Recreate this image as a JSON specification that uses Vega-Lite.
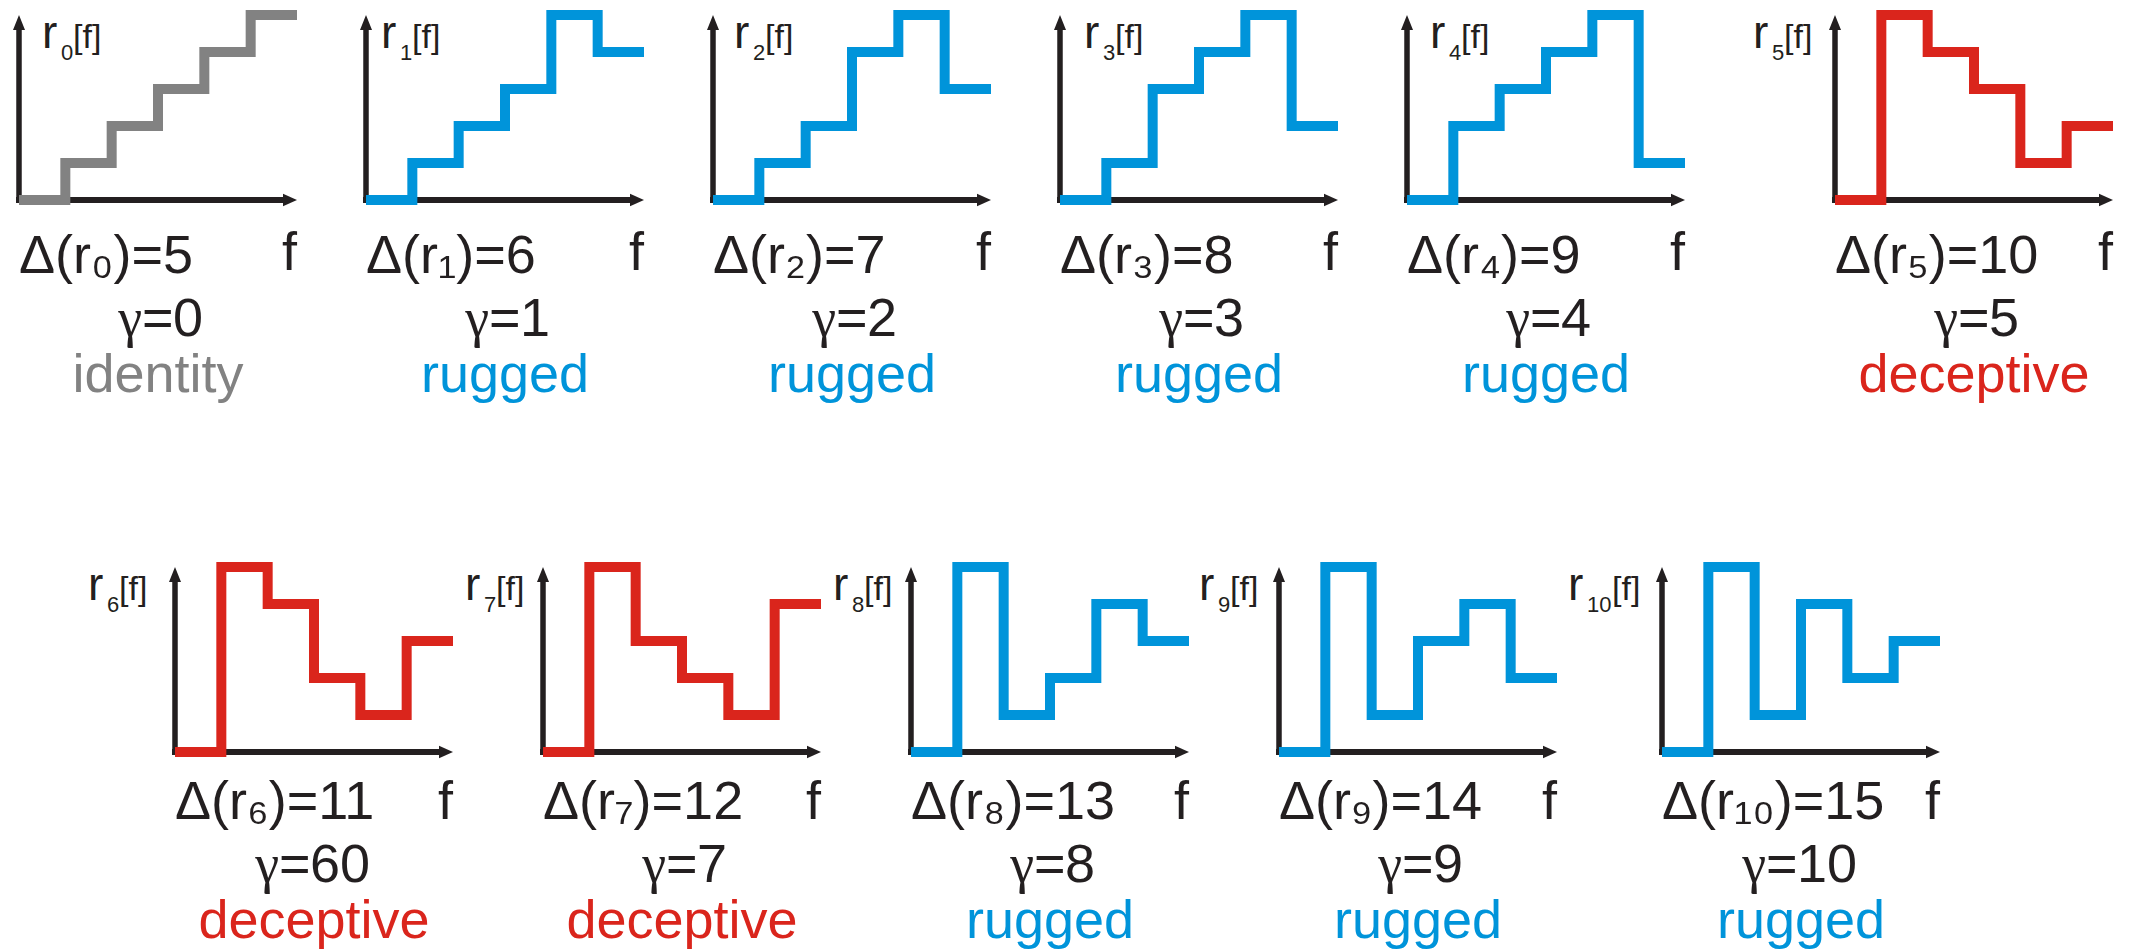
{
  "$schema": "https://vega.github.io/schema/vega-lite/v6.json",
  "padding": {"left": -1, "top": -5, "right": 0, "bottom": 0},
  "config": {
    "view": {"stroke": null},
    "axis": {"disable": true},
    "text": {"baseline": "alphabetic", "font": "Liberation Sans", "color": "#231f20"},
    "rule": {"color": "#231f20", "strokeCap": "butt"},
    "point": {"filled": true, "opacity": 1, "strokeWidth": 0, "color": "#231f20"},
    "line": {"interpolate": "step-after", "strokeWidth": 10, "strokeJoin": "miter", "strokeCap": "butt"}
  },
  "data": {
    "values": [
      {"panel": 0, "kind": "identity", "sub": "0", "delta": "Δ(r₀)=5", "gamma": 0},
      {"panel": 1, "kind": "rugged", "sub": "1", "delta": "Δ(r₁)=6", "gamma": 1},
      {"panel": 2, "kind": "rugged", "sub": "2", "delta": "Δ(r₂)=7", "gamma": 2},
      {"panel": 3, "kind": "rugged", "sub": "3", "delta": "Δ(r₃)=8", "gamma": 3},
      {"panel": 4, "kind": "rugged", "sub": "4", "delta": "Δ(r₄)=9", "gamma": 4},
      {"panel": 5, "kind": "deceptive", "sub": "5", "delta": "Δ(r₅)=10", "gamma": 5},
      {"panel": 6, "kind": "deceptive", "sub": "6", "delta": "Δ(r₆)=11", "gamma": 60},
      {"panel": 7, "kind": "deceptive", "sub": "7", "delta": "Δ(r₇)=12", "gamma": 7},
      {"panel": 8, "kind": "rugged", "sub": "8", "delta": "Δ(r₈)=13", "gamma": 8},
      {"panel": 9, "kind": "rugged", "sub": "9", "delta": "Δ(r₉)=14", "gamma": 9},
      {"panel": 10, "kind": "rugged", "sub": "10", "delta": "Δ(r₁₀)=15", "gamma": 10},

      {"panel": 0, "kind": "identity", "f": 0, "r": 0}, {"panel": 0, "kind": "identity", "f": 1, "r": 1},
      {"panel": 0, "kind": "identity", "f": 2, "r": 2}, {"panel": 0, "kind": "identity", "f": 3, "r": 3},
      {"panel": 0, "kind": "identity", "f": 4, "r": 4}, {"panel": 0, "kind": "identity", "f": 5, "r": 5},
      {"panel": 0, "kind": "identity", "f": 6, "r": 5},
      {"panel": 1, "kind": "rugged", "f": 0, "r": 0}, {"panel": 1, "kind": "rugged", "f": 1, "r": 1},
      {"panel": 1, "kind": "rugged", "f": 2, "r": 2}, {"panel": 1, "kind": "rugged", "f": 3, "r": 3},
      {"panel": 1, "kind": "rugged", "f": 4, "r": 5}, {"panel": 1, "kind": "rugged", "f": 5, "r": 4},
      {"panel": 1, "kind": "rugged", "f": 6, "r": 4},
      {"panel": 2, "kind": "rugged", "f": 0, "r": 0}, {"panel": 2, "kind": "rugged", "f": 1, "r": 1},
      {"panel": 2, "kind": "rugged", "f": 2, "r": 2}, {"panel": 2, "kind": "rugged", "f": 3, "r": 4},
      {"panel": 2, "kind": "rugged", "f": 4, "r": 5}, {"panel": 2, "kind": "rugged", "f": 5, "r": 3},
      {"panel": 2, "kind": "rugged", "f": 6, "r": 3},
      {"panel": 3, "kind": "rugged", "f": 0, "r": 0}, {"panel": 3, "kind": "rugged", "f": 1, "r": 1},
      {"panel": 3, "kind": "rugged", "f": 2, "r": 3}, {"panel": 3, "kind": "rugged", "f": 3, "r": 4},
      {"panel": 3, "kind": "rugged", "f": 4, "r": 5}, {"panel": 3, "kind": "rugged", "f": 5, "r": 2},
      {"panel": 3, "kind": "rugged", "f": 6, "r": 2},
      {"panel": 4, "kind": "rugged", "f": 0, "r": 0}, {"panel": 4, "kind": "rugged", "f": 1, "r": 2},
      {"panel": 4, "kind": "rugged", "f": 2, "r": 3}, {"panel": 4, "kind": "rugged", "f": 3, "r": 4},
      {"panel": 4, "kind": "rugged", "f": 4, "r": 5}, {"panel": 4, "kind": "rugged", "f": 5, "r": 1},
      {"panel": 4, "kind": "rugged", "f": 6, "r": 1},
      {"panel": 5, "kind": "deceptive", "f": 0, "r": 0}, {"panel": 5, "kind": "deceptive", "f": 1, "r": 5},
      {"panel": 5, "kind": "deceptive", "f": 2, "r": 4}, {"panel": 5, "kind": "deceptive", "f": 3, "r": 3},
      {"panel": 5, "kind": "deceptive", "f": 4, "r": 1}, {"panel": 5, "kind": "deceptive", "f": 5, "r": 2},
      {"panel": 5, "kind": "deceptive", "f": 6, "r": 2},
      {"panel": 6, "kind": "deceptive", "f": 0, "r": 0}, {"panel": 6, "kind": "deceptive", "f": 1, "r": 5},
      {"panel": 6, "kind": "deceptive", "f": 2, "r": 4}, {"panel": 6, "kind": "deceptive", "f": 3, "r": 2},
      {"panel": 6, "kind": "deceptive", "f": 4, "r": 1}, {"panel": 6, "kind": "deceptive", "f": 5, "r": 3},
      {"panel": 6, "kind": "deceptive", "f": 6, "r": 3},
      {"panel": 7, "kind": "deceptive", "f": 0, "r": 0}, {"panel": 7, "kind": "deceptive", "f": 1, "r": 5},
      {"panel": 7, "kind": "deceptive", "f": 2, "r": 3}, {"panel": 7, "kind": "deceptive", "f": 3, "r": 2},
      {"panel": 7, "kind": "deceptive", "f": 4, "r": 1}, {"panel": 7, "kind": "deceptive", "f": 5, "r": 4},
      {"panel": 7, "kind": "deceptive", "f": 6, "r": 4},
      {"panel": 8, "kind": "rugged", "f": 0, "r": 0}, {"panel": 8, "kind": "rugged", "f": 1, "r": 5},
      {"panel": 8, "kind": "rugged", "f": 2, "r": 1}, {"panel": 8, "kind": "rugged", "f": 3, "r": 2},
      {"panel": 8, "kind": "rugged", "f": 4, "r": 4}, {"panel": 8, "kind": "rugged", "f": 5, "r": 3},
      {"panel": 8, "kind": "rugged", "f": 6, "r": 3},
      {"panel": 9, "kind": "rugged", "f": 0, "r": 0}, {"panel": 9, "kind": "rugged", "f": 1, "r": 5},
      {"panel": 9, "kind": "rugged", "f": 2, "r": 1}, {"panel": 9, "kind": "rugged", "f": 3, "r": 3},
      {"panel": 9, "kind": "rugged", "f": 4, "r": 4}, {"panel": 9, "kind": "rugged", "f": 5, "r": 2},
      {"panel": 9, "kind": "rugged", "f": 6, "r": 2},
      {"panel": 10, "kind": "rugged", "f": 0, "r": 0}, {"panel": 10, "kind": "rugged", "f": 1, "r": 5},
      {"panel": 10, "kind": "rugged", "f": 2, "r": 1}, {"panel": 10, "kind": "rugged", "f": 3, "r": 4},
      {"panel": 10, "kind": "rugged", "f": 4, "r": 2}, {"panel": 10, "kind": "rugged", "f": 5, "r": 3},
      {"panel": 10, "kind": "rugged", "f": 6, "r": 3}
    ]
  },
  "spacing": 552,
  "bounds": "flush",
  "vconcat": [
    {
      "spacing": 1816,
      "bounds": "flush",
      "hconcat": [
        {
          "spacing": 69,
          "bounds": "flush",
          "hconcat": [
            {
              "width": 278, "height": 185,
              "transform": [{"filter": "datum.panel == 0"}],
              "layer": [
                {
                  "transform": [{"filter": "!isValid(datum.f)"}],
                  "encoding": {
                    "x": {"datum": 0, "type": "quantitative", "scale": {"domain": [0, 6], "nice": false, "zero": false}, "axis": null},
                    "y": {"datum": 0, "type": "quantitative", "scale": {"domain": [0, 5], "nice": false, "zero": false}, "axis": null}
                  },
                  "layer": [
                    {"mark": {"type": "rule", "strokeWidth": 6, "xOffset": -3, "x2Offset": -12}, "encoding": {"x2": {"datum": 6}}},
                    {"mark": {"type": "rule", "strokeWidth": 5.5, "yOffset": 3, "y2Offset": 12}, "encoding": {"y2": {"datum": 5}}},
                    {"mark": {"type": "point", "shape": "M0,0L0.4,1L-0.4,1Z", "size": 900}, "encoding": {"y": {"datum": 5, "type": "quantitative"}}},
                    {"mark": {"type": "point", "shape": "M0,0L-1,-0.45L-1,0.45Z", "size": 784}, "encoding": {"x": {"datum": 6, "type": "quantitative"}}},
                    {"mark": {"type": "text", "align": "left", "dy": 73, "fontSize": 54}, "encoding": {"text": {"field": "delta"}}},
                    {"mark": {"type": "text", "align": "right", "dy": 70, "fontSize": 54, "text": "f"}, "encoding": {"x": {"datum": 6, "type": "quantitative"}}},
                    {"mark": {"type": "text", "align": "right", "dx": -16, "dy": 136, "fontSize": 54, "font": "Liberation Serif", "text": "γ"}, "encoding": {"x": {"datum": 3, "type": "quantitative"}}},
                    {"mark": {"type": "text", "align": "left", "dx": -16, "dy": 136, "fontSize": 54, "text": "="}, "encoding": {"x": {"datum": 3, "type": "quantitative"}}},
                    {"mark": {"type": "text", "align": "left", "dx": 15, "dy": 136, "fontSize": 54}, "encoding": {"x": {"datum": 3, "type": "quantitative"}, "text": {"field": "gamma", "type": "quantitative", "format": "d"}}},
                    {"mark": {"type": "text", "align": "center", "dy": 192, "fontSize": 54}, "encoding": {"x": {"datum": 3, "type": "quantitative"}, "text": {"field": "kind"}, "color": {"field": "kind", "type": "nominal", "scale": {"domain": ["identity", "rugged", "deceptive"], "range": ["#828282", "#0094da", "#da251c"]}, "legend": null}}},
                    {"mark": {"type": "text", "align": "left", "dx": 23, "dy": 33, "fontSize": 46, "text": "r"}, "encoding": {"y": {"datum": 5, "type": "quantitative"}}},
                    {"mark": {"type": "text", "align": "left", "dx": 42, "dy": 45, "fontSize": 22}, "encoding": {"y": {"datum": 5, "type": "quantitative"}, "text": {"field": "sub"}}},
                    {"mark": {"type": "text", "align": "left", "dx": 54, "dy": 33, "fontSize": 34, "text": "[f]"}, "encoding": {"y": {"datum": 5, "type": "quantitative"}}}
                  ]
                },
                {
                  "transform": [{"filter": "isValid(datum.f)"}],
                  "mark": "line",
                  "encoding": {"x": {"field": "f", "type": "quantitative"}, "y": {"field": "r", "type": "quantitative"}, "color": {"field": "kind", "type": "nominal", "scale": {"domain": ["identity", "rugged", "deceptive"], "range": ["#828282", "#0094da", "#da251c"]}, "legend": null}}
                }
              ]
            },
            {
              "width": 278, "height": 185,
              "transform": [{"filter": "datum.panel == 1"}],
              "layer": [
                {
                  "transform": [{"filter": "!isValid(datum.f)"}],
                  "encoding": {
                    "x": {"datum": 0, "type": "quantitative", "scale": {"domain": [0, 6], "nice": false, "zero": false}, "axis": null},
                    "y": {"datum": 0, "type": "quantitative", "scale": {"domain": [0, 5], "nice": false, "zero": false}, "axis": null}
                  },
                  "layer": [
                    {"mark": {"type": "rule", "strokeWidth": 6, "xOffset": -3, "x2Offset": -12}, "encoding": {"x2": {"datum": 6}}},
                    {"mark": {"type": "rule", "strokeWidth": 5.5, "yOffset": 3, "y2Offset": 12}, "encoding": {"y2": {"datum": 5}}},
                    {"mark": {"type": "point", "shape": "M0,0L0.4,1L-0.4,1Z", "size": 900}, "encoding": {"y": {"datum": 5, "type": "quantitative"}}},
                    {"mark": {"type": "point", "shape": "M0,0L-1,-0.45L-1,0.45Z", "size": 784}, "encoding": {"x": {"datum": 6, "type": "quantitative"}}},
                    {"mark": {"type": "text", "align": "left", "dy": 73, "fontSize": 54}, "encoding": {"text": {"field": "delta"}}},
                    {"mark": {"type": "text", "align": "right", "dy": 70, "fontSize": 54, "text": "f"}, "encoding": {"x": {"datum": 6, "type": "quantitative"}}},
                    {"mark": {"type": "text", "align": "right", "dx": -16, "dy": 136, "fontSize": 54, "font": "Liberation Serif", "text": "γ"}, "encoding": {"x": {"datum": 3, "type": "quantitative"}}},
                    {"mark": {"type": "text", "align": "left", "dx": -16, "dy": 136, "fontSize": 54, "text": "="}, "encoding": {"x": {"datum": 3, "type": "quantitative"}}},
                    {"mark": {"type": "text", "align": "left", "dx": 15, "dy": 136, "fontSize": 54}, "encoding": {"x": {"datum": 3, "type": "quantitative"}, "text": {"field": "gamma", "type": "quantitative", "format": "d"}}},
                    {"mark": {"type": "text", "align": "center", "dy": 192, "fontSize": 54}, "encoding": {"x": {"datum": 3, "type": "quantitative"}, "text": {"field": "kind"}, "color": {"field": "kind", "type": "nominal", "scale": {"domain": ["identity", "rugged", "deceptive"], "range": ["#828282", "#0094da", "#da251c"]}, "legend": null}}},
                    {"mark": {"type": "text", "align": "left", "dx": 15, "dy": 33, "fontSize": 46, "text": "r"}, "encoding": {"y": {"datum": 5, "type": "quantitative"}}},
                    {"mark": {"type": "text", "align": "left", "dx": 34, "dy": 45, "fontSize": 22}, "encoding": {"y": {"datum": 5, "type": "quantitative"}, "text": {"field": "sub"}}},
                    {"mark": {"type": "text", "align": "left", "dx": 46, "dy": 33, "fontSize": 34, "text": "[f]"}, "encoding": {"y": {"datum": 5, "type": "quantitative"}}}
                  ]
                },
                {
                  "transform": [{"filter": "isValid(datum.f)"}],
                  "mark": "line",
                  "encoding": {"x": {"field": "f", "type": "quantitative"}, "y": {"field": "r", "type": "quantitative"}, "color": {"field": "kind", "type": "nominal", "scale": {"domain": ["identity", "rugged", "deceptive"], "range": ["#828282", "#0094da", "#da251c"]}, "legend": null}}
                }
              ]
            },
            {
              "width": 278, "height": 185,
              "transform": [{"filter": "datum.panel == 2"}],
              "layer": [
                {
                  "transform": [{"filter": "!isValid(datum.f)"}],
                  "encoding": {
                    "x": {"datum": 0, "type": "quantitative", "scale": {"domain": [0, 6], "nice": false, "zero": false}, "axis": null},
                    "y": {"datum": 0, "type": "quantitative", "scale": {"domain": [0, 5], "nice": false, "zero": false}, "axis": null}
                  },
                  "layer": [
                    {"mark": {"type": "rule", "strokeWidth": 6, "xOffset": -3, "x2Offset": -12}, "encoding": {"x2": {"datum": 6}}},
                    {"mark": {"type": "rule", "strokeWidth": 5.5, "yOffset": 3, "y2Offset": 12}, "encoding": {"y2": {"datum": 5}}},
                    {"mark": {"type": "point", "shape": "M0,0L0.4,1L-0.4,1Z", "size": 900}, "encoding": {"y": {"datum": 5, "type": "quantitative"}}},
                    {"mark": {"type": "point", "shape": "M0,0L-1,-0.45L-1,0.45Z", "size": 784}, "encoding": {"x": {"datum": 6, "type": "quantitative"}}},
                    {"mark": {"type": "text", "align": "left", "dy": 73, "fontSize": 54}, "encoding": {"text": {"field": "delta"}}},
                    {"mark": {"type": "text", "align": "right", "dy": 70, "fontSize": 54, "text": "f"}, "encoding": {"x": {"datum": 6, "type": "quantitative"}}},
                    {"mark": {"type": "text", "align": "right", "dx": -16, "dy": 136, "fontSize": 54, "font": "Liberation Serif", "text": "γ"}, "encoding": {"x": {"datum": 3, "type": "quantitative"}}},
                    {"mark": {"type": "text", "align": "left", "dx": -16, "dy": 136, "fontSize": 54, "text": "="}, "encoding": {"x": {"datum": 3, "type": "quantitative"}}},
                    {"mark": {"type": "text", "align": "left", "dx": 15, "dy": 136, "fontSize": 54}, "encoding": {"x": {"datum": 3, "type": "quantitative"}, "text": {"field": "gamma", "type": "quantitative", "format": "d"}}},
                    {"mark": {"type": "text", "align": "center", "dy": 192, "fontSize": 54}, "encoding": {"x": {"datum": 3, "type": "quantitative"}, "text": {"field": "kind"}, "color": {"field": "kind", "type": "nominal", "scale": {"domain": ["identity", "rugged", "deceptive"], "range": ["#828282", "#0094da", "#da251c"]}, "legend": null}}},
                    {"mark": {"type": "text", "align": "left", "dx": 21, "dy": 33, "fontSize": 46, "text": "r"}, "encoding": {"y": {"datum": 5, "type": "quantitative"}}},
                    {"mark": {"type": "text", "align": "left", "dx": 40, "dy": 45, "fontSize": 22}, "encoding": {"y": {"datum": 5, "type": "quantitative"}, "text": {"field": "sub"}}},
                    {"mark": {"type": "text", "align": "left", "dx": 52, "dy": 33, "fontSize": 34, "text": "[f]"}, "encoding": {"y": {"datum": 5, "type": "quantitative"}}}
                  ]
                },
                {
                  "transform": [{"filter": "isValid(datum.f)"}],
                  "mark": "line",
                  "encoding": {"x": {"field": "f", "type": "quantitative"}, "y": {"field": "r", "type": "quantitative"}, "color": {"field": "kind", "type": "nominal", "scale": {"domain": ["identity", "rugged", "deceptive"], "range": ["#828282", "#0094da", "#da251c"]}, "legend": null}}
                }
              ]
            },
            {
              "width": 278, "height": 185,
              "transform": [{"filter": "datum.panel == 3"}],
              "layer": [
                {
                  "transform": [{"filter": "!isValid(datum.f)"}],
                  "encoding": {
                    "x": {"datum": 0, "type": "quantitative", "scale": {"domain": [0, 6], "nice": false, "zero": false}, "axis": null},
                    "y": {"datum": 0, "type": "quantitative", "scale": {"domain": [0, 5], "nice": false, "zero": false}, "axis": null}
                  },
                  "layer": [
                    {"mark": {"type": "rule", "strokeWidth": 6, "xOffset": -3, "x2Offset": -12}, "encoding": {"x2": {"datum": 6}}},
                    {"mark": {"type": "rule", "strokeWidth": 5.5, "yOffset": 3, "y2Offset": 12}, "encoding": {"y2": {"datum": 5}}},
                    {"mark": {"type": "point", "shape": "M0,0L0.4,1L-0.4,1Z", "size": 900}, "encoding": {"y": {"datum": 5, "type": "quantitative"}}},
                    {"mark": {"type": "point", "shape": "M0,0L-1,-0.45L-1,0.45Z", "size": 784}, "encoding": {"x": {"datum": 6, "type": "quantitative"}}},
                    {"mark": {"type": "text", "align": "left", "dy": 73, "fontSize": 54}, "encoding": {"text": {"field": "delta"}}},
                    {"mark": {"type": "text", "align": "right", "dy": 70, "fontSize": 54, "text": "f"}, "encoding": {"x": {"datum": 6, "type": "quantitative"}}},
                    {"mark": {"type": "text", "align": "right", "dx": -16, "dy": 136, "fontSize": 54, "font": "Liberation Serif", "text": "γ"}, "encoding": {"x": {"datum": 3, "type": "quantitative"}}},
                    {"mark": {"type": "text", "align": "left", "dx": -16, "dy": 136, "fontSize": 54, "text": "="}, "encoding": {"x": {"datum": 3, "type": "quantitative"}}},
                    {"mark": {"type": "text", "align": "left", "dx": 15, "dy": 136, "fontSize": 54}, "encoding": {"x": {"datum": 3, "type": "quantitative"}, "text": {"field": "gamma", "type": "quantitative", "format": "d"}}},
                    {"mark": {"type": "text", "align": "center", "dy": 192, "fontSize": 54}, "encoding": {"x": {"datum": 3, "type": "quantitative"}, "text": {"field": "kind"}, "color": {"field": "kind", "type": "nominal", "scale": {"domain": ["identity", "rugged", "deceptive"], "range": ["#828282", "#0094da", "#da251c"]}, "legend": null}}},
                    {"mark": {"type": "text", "align": "left", "dx": 24, "dy": 33, "fontSize": 46, "text": "r"}, "encoding": {"y": {"datum": 5, "type": "quantitative"}}},
                    {"mark": {"type": "text", "align": "left", "dx": 43, "dy": 45, "fontSize": 22}, "encoding": {"y": {"datum": 5, "type": "quantitative"}, "text": {"field": "sub"}}},
                    {"mark": {"type": "text", "align": "left", "dx": 55, "dy": 33, "fontSize": 34, "text": "[f]"}, "encoding": {"y": {"datum": 5, "type": "quantitative"}}}
                  ]
                },
                {
                  "transform": [{"filter": "isValid(datum.f)"}],
                  "mark": "line",
                  "encoding": {"x": {"field": "f", "type": "quantitative"}, "y": {"field": "r", "type": "quantitative"}, "color": {"field": "kind", "type": "nominal", "scale": {"domain": ["identity", "rugged", "deceptive"], "range": ["#828282", "#0094da", "#da251c"]}, "legend": null}}
                }
              ]
            },
            {
              "width": 278, "height": 185,
              "transform": [{"filter": "datum.panel == 4"}],
              "layer": [
                {
                  "transform": [{"filter": "!isValid(datum.f)"}],
                  "encoding": {
                    "x": {"datum": 0, "type": "quantitative", "scale": {"domain": [0, 6], "nice": false, "zero": false}, "axis": null},
                    "y": {"datum": 0, "type": "quantitative", "scale": {"domain": [0, 5], "nice": false, "zero": false}, "axis": null}
                  },
                  "layer": [
                    {"mark": {"type": "rule", "strokeWidth": 6, "xOffset": -3, "x2Offset": -12}, "encoding": {"x2": {"datum": 6}}},
                    {"mark": {"type": "rule", "strokeWidth": 5.5, "yOffset": 3, "y2Offset": 12}, "encoding": {"y2": {"datum": 5}}},
                    {"mark": {"type": "point", "shape": "M0,0L0.4,1L-0.4,1Z", "size": 900}, "encoding": {"y": {"datum": 5, "type": "quantitative"}}},
                    {"mark": {"type": "point", "shape": "M0,0L-1,-0.45L-1,0.45Z", "size": 784}, "encoding": {"x": {"datum": 6, "type": "quantitative"}}},
                    {"mark": {"type": "text", "align": "left", "dy": 73, "fontSize": 54}, "encoding": {"text": {"field": "delta"}}},
                    {"mark": {"type": "text", "align": "right", "dy": 70, "fontSize": 54, "text": "f"}, "encoding": {"x": {"datum": 6, "type": "quantitative"}}},
                    {"mark": {"type": "text", "align": "right", "dx": -16, "dy": 136, "fontSize": 54, "font": "Liberation Serif", "text": "γ"}, "encoding": {"x": {"datum": 3, "type": "quantitative"}}},
                    {"mark": {"type": "text", "align": "left", "dx": -16, "dy": 136, "fontSize": 54, "text": "="}, "encoding": {"x": {"datum": 3, "type": "quantitative"}}},
                    {"mark": {"type": "text", "align": "left", "dx": 15, "dy": 136, "fontSize": 54}, "encoding": {"x": {"datum": 3, "type": "quantitative"}, "text": {"field": "gamma", "type": "quantitative", "format": "d"}}},
                    {"mark": {"type": "text", "align": "center", "dy": 192, "fontSize": 54}, "encoding": {"x": {"datum": 3, "type": "quantitative"}, "text": {"field": "kind"}, "color": {"field": "kind", "type": "nominal", "scale": {"domain": ["identity", "rugged", "deceptive"], "range": ["#828282", "#0094da", "#da251c"]}, "legend": null}}},
                    {"mark": {"type": "text", "align": "left", "dx": 23, "dy": 33, "fontSize": 46, "text": "r"}, "encoding": {"y": {"datum": 5, "type": "quantitative"}}},
                    {"mark": {"type": "text", "align": "left", "dx": 42, "dy": 45, "fontSize": 22}, "encoding": {"y": {"datum": 5, "type": "quantitative"}, "text": {"field": "sub"}}},
                    {"mark": {"type": "text", "align": "left", "dx": 54, "dy": 33, "fontSize": 34, "text": "[f]"}, "encoding": {"y": {"datum": 5, "type": "quantitative"}}}
                  ]
                },
                {
                  "transform": [{"filter": "isValid(datum.f)"}],
                  "mark": "line",
                  "encoding": {"x": {"field": "f", "type": "quantitative"}, "y": {"field": "r", "type": "quantitative"}, "color": {"field": "kind", "type": "nominal", "scale": {"domain": ["identity", "rugged", "deceptive"], "range": ["#828282", "#0094da", "#da251c"]}, "legend": null}}
                }
              ]
            }
          ]
        },
        {
          "width": 278, "height": 185,
          "transform": [{"filter": "datum.panel == 5"}],
          "layer": [
            {
              "transform": [{"filter": "!isValid(datum.f)"}],
              "encoding": {
                "x": {"datum": 0, "type": "quantitative", "scale": {"domain": [0, 6], "nice": false, "zero": false}, "axis": null},
                "y": {"datum": 0, "type": "quantitative", "scale": {"domain": [0, 5], "nice": false, "zero": false}, "axis": null}
              },
              "layer": [
                {"mark": {"type": "rule", "strokeWidth": 6, "xOffset": -3, "x2Offset": -12}, "encoding": {"x2": {"datum": 6}}},
                {"mark": {"type": "rule", "strokeWidth": 5.5, "yOffset": 3, "y2Offset": 12}, "encoding": {"y2": {"datum": 5}}},
                {"mark": {"type": "point", "shape": "M0,0L0.4,1L-0.4,1Z", "size": 900}, "encoding": {"y": {"datum": 5, "type": "quantitative"}}},
                {"mark": {"type": "point", "shape": "M0,0L-1,-0.45L-1,0.45Z", "size": 784}, "encoding": {"x": {"datum": 6, "type": "quantitative"}}},
                {"mark": {"type": "text", "align": "left", "dy": 73, "fontSize": 54}, "encoding": {"text": {"field": "delta"}}},
                {"mark": {"type": "text", "align": "right", "dy": 70, "fontSize": 54, "text": "f"}, "encoding": {"x": {"datum": 6, "type": "quantitative"}}},
                {"mark": {"type": "text", "align": "right", "dx": -16, "dy": 136, "fontSize": 54, "font": "Liberation Serif", "text": "γ"}, "encoding": {"x": {"datum": 3, "type": "quantitative"}}},
                {"mark": {"type": "text", "align": "left", "dx": -16, "dy": 136, "fontSize": 54, "text": "="}, "encoding": {"x": {"datum": 3, "type": "quantitative"}}},
                {"mark": {"type": "text", "align": "left", "dx": 15, "dy": 136, "fontSize": 54}, "encoding": {"x": {"datum": 3, "type": "quantitative"}, "text": {"field": "gamma", "type": "quantitative", "format": "d"}}},
                {"mark": {"type": "text", "align": "center", "dy": 192, "fontSize": 54}, "encoding": {"x": {"datum": 3, "type": "quantitative"}, "text": {"field": "kind"}, "color": {"field": "kind", "type": "nominal", "scale": {"domain": ["identity", "rugged", "deceptive"], "range": ["#828282", "#0094da", "#da251c"]}, "legend": null}}},
                {"mark": {"type": "text", "align": "left", "dx": -82, "dy": 33, "fontSize": 46, "text": "r"}, "encoding": {"y": {"datum": 5, "type": "quantitative"}}},
                {"mark": {"type": "text", "align": "left", "dx": -63, "dy": 45, "fontSize": 22}, "encoding": {"y": {"datum": 5, "type": "quantitative"}, "text": {"field": "sub"}}},
                {"mark": {"type": "text", "align": "left", "dx": -51, "dy": 33, "fontSize": 34, "text": "[f]"}, "encoding": {"y": {"datum": 5, "type": "quantitative"}}}
              ]
            },
            {
              "transform": [{"filter": "isValid(datum.f)"}],
              "mark": "line",
              "encoding": {"x": {"field": "f", "type": "quantitative"}, "y": {"field": "r", "type": "quantitative"}, "color": {"field": "kind", "type": "nominal", "scale": {"domain": ["identity", "rugged", "deceptive"], "range": ["#828282", "#0094da", "#da251c"]}, "legend": null}}
            }
          ]
        }
      ]
    },
    {
      "spacing": 105,
      "bounds": "flush",
      "hconcat": [
        {
          "width": 51, "height": 185,
          "data": {"values": []},
          "mark": {"type": "point", "opacity": 0}
        },
        {
          "spacing": 1487,
          "bounds": "flush",
          "hconcat": [
            {
              "spacing": 90,
              "bounds": "flush",
              "hconcat": [
                {
                  "width": 278, "height": 185,
                  "transform": [{"filter": "datum.panel == 6"}],
                  "layer": [
                    {
                      "transform": [{"filter": "!isValid(datum.f)"}],
                      "encoding": {
                        "x": {"datum": 0, "type": "quantitative", "scale": {"domain": [0, 6], "nice": false, "zero": false}, "axis": null},
                        "y": {"datum": 0, "type": "quantitative", "scale": {"domain": [0, 5], "nice": false, "zero": false}, "axis": null}
                      },
                      "layer": [
                        {"mark": {"type": "rule", "strokeWidth": 6, "xOffset": -3, "x2Offset": -12}, "encoding": {"x2": {"datum": 6}}},
                        {"mark": {"type": "rule", "strokeWidth": 5.5, "yOffset": 3, "y2Offset": 12}, "encoding": {"y2": {"datum": 5}}},
                        {"mark": {"type": "point", "shape": "M0,0L0.4,1L-0.4,1Z", "size": 900}, "encoding": {"y": {"datum": 5, "type": "quantitative"}}},
                        {"mark": {"type": "point", "shape": "M0,0L-1,-0.45L-1,0.45Z", "size": 784}, "encoding": {"x": {"datum": 6, "type": "quantitative"}}},
                        {"mark": {"type": "text", "align": "left", "dy": 67, "fontSize": 54}, "encoding": {"text": {"field": "delta"}}},
                        {"mark": {"type": "text", "align": "right", "dy": 67, "fontSize": 54, "text": "f"}, "encoding": {"x": {"datum": 6, "type": "quantitative"}}},
                        {"mark": {"type": "text", "align": "right", "dx": -35, "dy": 130, "fontSize": 54, "font": "Liberation Serif", "text": "γ"}, "encoding": {"x": {"datum": 3, "type": "quantitative"}}},
                        {"mark": {"type": "text", "align": "left", "dx": -35, "dy": 130, "fontSize": 54, "text": "="}, "encoding": {"x": {"datum": 3, "type": "quantitative"}}},
                        {"mark": {"type": "text", "align": "left", "dx": -4, "dy": 130, "fontSize": 54}, "encoding": {"x": {"datum": 3, "type": "quantitative"}, "text": {"field": "gamma", "type": "quantitative", "format": "d"}}},
                        {"mark": {"type": "text", "align": "center", "dy": 186, "fontSize": 54}, "encoding": {"x": {"datum": 3, "type": "quantitative"}, "text": {"field": "kind"}, "color": {"field": "kind", "type": "nominal", "scale": {"domain": ["identity", "rugged", "deceptive"], "range": ["#828282", "#0094da", "#da251c"]}, "legend": null}}},
                        {"mark": {"type": "text", "align": "left", "dx": -87, "dy": 33, "fontSize": 46, "text": "r"}, "encoding": {"y": {"datum": 5, "type": "quantitative"}}},
                        {"mark": {"type": "text", "align": "left", "dx": -68, "dy": 45, "fontSize": 22}, "encoding": {"y": {"datum": 5, "type": "quantitative"}, "text": {"field": "sub"}}},
                        {"mark": {"type": "text", "align": "left", "dx": -56, "dy": 33, "fontSize": 34, "text": "[f]"}, "encoding": {"y": {"datum": 5, "type": "quantitative"}}}
                      ]
                    },
                    {
                      "transform": [{"filter": "isValid(datum.f)"}],
                      "mark": "line",
                      "encoding": {"x": {"field": "f", "type": "quantitative"}, "y": {"field": "r", "type": "quantitative"}, "color": {"field": "kind", "type": "nominal", "scale": {"domain": ["identity", "rugged", "deceptive"], "range": ["#828282", "#0094da", "#da251c"]}, "legend": null}}
                    }
                  ]
                },
                {
                  "width": 278, "height": 185,
                  "transform": [{"filter": "datum.panel == 7"}],
                  "layer": [
                    {
                      "transform": [{"filter": "!isValid(datum.f)"}],
                      "encoding": {
                        "x": {"datum": 0, "type": "quantitative", "scale": {"domain": [0, 6], "nice": false, "zero": false}, "axis": null},
                        "y": {"datum": 0, "type": "quantitative", "scale": {"domain": [0, 5], "nice": false, "zero": false}, "axis": null}
                      },
                      "layer": [
                        {"mark": {"type": "rule", "strokeWidth": 6, "xOffset": -3, "x2Offset": -12}, "encoding": {"x2": {"datum": 6}}},
                        {"mark": {"type": "rule", "strokeWidth": 5.5, "yOffset": 3, "y2Offset": 12}, "encoding": {"y2": {"datum": 5}}},
                        {"mark": {"type": "point", "shape": "M0,0L0.4,1L-0.4,1Z", "size": 900}, "encoding": {"y": {"datum": 5, "type": "quantitative"}}},
                        {"mark": {"type": "point", "shape": "M0,0L-1,-0.45L-1,0.45Z", "size": 784}, "encoding": {"x": {"datum": 6, "type": "quantitative"}}},
                        {"mark": {"type": "text", "align": "left", "dy": 67, "fontSize": 54}, "encoding": {"text": {"field": "delta"}}},
                        {"mark": {"type": "text", "align": "right", "dy": 67, "fontSize": 54, "text": "f"}, "encoding": {"x": {"datum": 6, "type": "quantitative"}}},
                        {"mark": {"type": "text", "align": "right", "dx": -16, "dy": 130, "fontSize": 54, "font": "Liberation Serif", "text": "γ"}, "encoding": {"x": {"datum": 3, "type": "quantitative"}}},
                        {"mark": {"type": "text", "align": "left", "dx": -16, "dy": 130, "fontSize": 54, "text": "="}, "encoding": {"x": {"datum": 3, "type": "quantitative"}}},
                        {"mark": {"type": "text", "align": "left", "dx": 15, "dy": 130, "fontSize": 54}, "encoding": {"x": {"datum": 3, "type": "quantitative"}, "text": {"field": "gamma", "type": "quantitative", "format": "d"}}},
                        {"mark": {"type": "text", "align": "center", "dy": 186, "fontSize": 54}, "encoding": {"x": {"datum": 3, "type": "quantitative"}, "text": {"field": "kind"}, "color": {"field": "kind", "type": "nominal", "scale": {"domain": ["identity", "rugged", "deceptive"], "range": ["#828282", "#0094da", "#da251c"]}, "legend": null}}},
                        {"mark": {"type": "text", "align": "left", "dx": -78, "dy": 33, "fontSize": 46, "text": "r"}, "encoding": {"y": {"datum": 5, "type": "quantitative"}}},
                        {"mark": {"type": "text", "align": "left", "dx": -59, "dy": 45, "fontSize": 22}, "encoding": {"y": {"datum": 5, "type": "quantitative"}, "text": {"field": "sub"}}},
                        {"mark": {"type": "text", "align": "left", "dx": -47, "dy": 33, "fontSize": 34, "text": "[f]"}, "encoding": {"y": {"datum": 5, "type": "quantitative"}}}
                      ]
                    },
                    {
                      "transform": [{"filter": "isValid(datum.f)"}],
                      "mark": "line",
                      "encoding": {"x": {"field": "f", "type": "quantitative"}, "y": {"field": "r", "type": "quantitative"}, "color": {"field": "kind", "type": "nominal", "scale": {"domain": ["identity", "rugged", "deceptive"], "range": ["#828282", "#0094da", "#da251c"]}, "legend": null}}
                    }
                  ]
                },
                {
                  "width": 278, "height": 185,
                  "transform": [{"filter": "datum.panel == 8"}],
                  "layer": [
                    {
                      "transform": [{"filter": "!isValid(datum.f)"}],
                      "encoding": {
                        "x": {"datum": 0, "type": "quantitative", "scale": {"domain": [0, 6], "nice": false, "zero": false}, "axis": null},
                        "y": {"datum": 0, "type": "quantitative", "scale": {"domain": [0, 5], "nice": false, "zero": false}, "axis": null}
                      },
                      "layer": [
                        {"mark": {"type": "rule", "strokeWidth": 6, "xOffset": -3, "x2Offset": -12}, "encoding": {"x2": {"datum": 6}}},
                        {"mark": {"type": "rule", "strokeWidth": 5.5, "yOffset": 3, "y2Offset": 12}, "encoding": {"y2": {"datum": 5}}},
                        {"mark": {"type": "point", "shape": "M0,0L0.4,1L-0.4,1Z", "size": 900}, "encoding": {"y": {"datum": 5, "type": "quantitative"}}},
                        {"mark": {"type": "point", "shape": "M0,0L-1,-0.45L-1,0.45Z", "size": 784}, "encoding": {"x": {"datum": 6, "type": "quantitative"}}},
                        {"mark": {"type": "text", "align": "left", "dy": 67, "fontSize": 54}, "encoding": {"text": {"field": "delta"}}},
                        {"mark": {"type": "text", "align": "right", "dy": 67, "fontSize": 54, "text": "f"}, "encoding": {"x": {"datum": 6, "type": "quantitative"}}},
                        {"mark": {"type": "text", "align": "right", "dx": -16, "dy": 130, "fontSize": 54, "font": "Liberation Serif", "text": "γ"}, "encoding": {"x": {"datum": 3, "type": "quantitative"}}},
                        {"mark": {"type": "text", "align": "left", "dx": -16, "dy": 130, "fontSize": 54, "text": "="}, "encoding": {"x": {"datum": 3, "type": "quantitative"}}},
                        {"mark": {"type": "text", "align": "left", "dx": 15, "dy": 130, "fontSize": 54}, "encoding": {"x": {"datum": 3, "type": "quantitative"}, "text": {"field": "gamma", "type": "quantitative", "format": "d"}}},
                        {"mark": {"type": "text", "align": "center", "dy": 186, "fontSize": 54}, "encoding": {"x": {"datum": 3, "type": "quantitative"}, "text": {"field": "kind"}, "color": {"field": "kind", "type": "nominal", "scale": {"domain": ["identity", "rugged", "deceptive"], "range": ["#828282", "#0094da", "#da251c"]}, "legend": null}}},
                        {"mark": {"type": "text", "align": "left", "dx": -78, "dy": 33, "fontSize": 46, "text": "r"}, "encoding": {"y": {"datum": 5, "type": "quantitative"}}},
                        {"mark": {"type": "text", "align": "left", "dx": -59, "dy": 45, "fontSize": 22}, "encoding": {"y": {"datum": 5, "type": "quantitative"}, "text": {"field": "sub"}}},
                        {"mark": {"type": "text", "align": "left", "dx": -47, "dy": 33, "fontSize": 34, "text": "[f]"}, "encoding": {"y": {"datum": 5, "type": "quantitative"}}}
                      ]
                    },
                    {
                      "transform": [{"filter": "isValid(datum.f)"}],
                      "mark": "line",
                      "encoding": {"x": {"field": "f", "type": "quantitative"}, "y": {"field": "r", "type": "quantitative"}, "color": {"field": "kind", "type": "nominal", "scale": {"domain": ["identity", "rugged", "deceptive"], "range": ["#828282", "#0094da", "#da251c"]}, "legend": null}}
                    }
                  ]
                },
                {
                  "width": 278, "height": 185,
                  "transform": [{"filter": "datum.panel == 9"}],
                  "layer": [
                    {
                      "transform": [{"filter": "!isValid(datum.f)"}],
                      "encoding": {
                        "x": {"datum": 0, "type": "quantitative", "scale": {"domain": [0, 6], "nice": false, "zero": false}, "axis": null},
                        "y": {"datum": 0, "type": "quantitative", "scale": {"domain": [0, 5], "nice": false, "zero": false}, "axis": null}
                      },
                      "layer": [
                        {"mark": {"type": "rule", "strokeWidth": 6, "xOffset": -3, "x2Offset": -12}, "encoding": {"x2": {"datum": 6}}},
                        {"mark": {"type": "rule", "strokeWidth": 5.5, "yOffset": 3, "y2Offset": 12}, "encoding": {"y2": {"datum": 5}}},
                        {"mark": {"type": "point", "shape": "M0,0L0.4,1L-0.4,1Z", "size": 900}, "encoding": {"y": {"datum": 5, "type": "quantitative"}}},
                        {"mark": {"type": "point", "shape": "M0,0L-1,-0.45L-1,0.45Z", "size": 784}, "encoding": {"x": {"datum": 6, "type": "quantitative"}}},
                        {"mark": {"type": "text", "align": "left", "dy": 67, "fontSize": 54}, "encoding": {"text": {"field": "delta"}}},
                        {"mark": {"type": "text", "align": "right", "dy": 67, "fontSize": 54, "text": "f"}, "encoding": {"x": {"datum": 6, "type": "quantitative"}}},
                        {"mark": {"type": "text", "align": "right", "dx": -16, "dy": 130, "fontSize": 54, "font": "Liberation Serif", "text": "γ"}, "encoding": {"x": {"datum": 3, "type": "quantitative"}}},
                        {"mark": {"type": "text", "align": "left", "dx": -16, "dy": 130, "fontSize": 54, "text": "="}, "encoding": {"x": {"datum": 3, "type": "quantitative"}}},
                        {"mark": {"type": "text", "align": "left", "dx": 15, "dy": 130, "fontSize": 54}, "encoding": {"x": {"datum": 3, "type": "quantitative"}, "text": {"field": "gamma", "type": "quantitative", "format": "d"}}},
                        {"mark": {"type": "text", "align": "center", "dy": 186, "fontSize": 54}, "encoding": {"x": {"datum": 3, "type": "quantitative"}, "text": {"field": "kind"}, "color": {"field": "kind", "type": "nominal", "scale": {"domain": ["identity", "rugged", "deceptive"], "range": ["#828282", "#0094da", "#da251c"]}, "legend": null}}},
                        {"mark": {"type": "text", "align": "left", "dx": -80, "dy": 33, "fontSize": 46, "text": "r"}, "encoding": {"y": {"datum": 5, "type": "quantitative"}}},
                        {"mark": {"type": "text", "align": "left", "dx": -61, "dy": 45, "fontSize": 22}, "encoding": {"y": {"datum": 5, "type": "quantitative"}, "text": {"field": "sub"}}},
                        {"mark": {"type": "text", "align": "left", "dx": -49, "dy": 33, "fontSize": 34, "text": "[f]"}, "encoding": {"y": {"datum": 5, "type": "quantitative"}}}
                      ]
                    },
                    {
                      "transform": [{"filter": "isValid(datum.f)"}],
                      "mark": "line",
                      "encoding": {"x": {"field": "f", "type": "quantitative"}, "y": {"field": "r", "type": "quantitative"}, "color": {"field": "kind", "type": "nominal", "scale": {"domain": ["identity", "rugged", "deceptive"], "range": ["#828282", "#0094da", "#da251c"]}, "legend": null}}
                    }
                  ]
                }
              ]
            },
            {
              "width": 278, "height": 185,
              "transform": [{"filter": "datum.panel == 10"}],
              "layer": [
                {
                  "transform": [{"filter": "!isValid(datum.f)"}],
                  "encoding": {
                    "x": {"datum": 0, "type": "quantitative", "scale": {"domain": [0, 6], "nice": false, "zero": false}, "axis": null},
                    "y": {"datum": 0, "type": "quantitative", "scale": {"domain": [0, 5], "nice": false, "zero": false}, "axis": null}
                  },
                  "layer": [
                    {"mark": {"type": "rule", "strokeWidth": 6, "xOffset": -3, "x2Offset": -12}, "encoding": {"x2": {"datum": 6}}},
                    {"mark": {"type": "rule", "strokeWidth": 5.5, "yOffset": 3, "y2Offset": 12}, "encoding": {"y2": {"datum": 5}}},
                    {"mark": {"type": "point", "shape": "M0,0L0.4,1L-0.4,1Z", "size": 900}, "encoding": {"y": {"datum": 5, "type": "quantitative"}}},
                    {"mark": {"type": "point", "shape": "M0,0L-1,-0.45L-1,0.45Z", "size": 784}, "encoding": {"x": {"datum": 6, "type": "quantitative"}}},
                    {"mark": {"type": "text", "align": "left", "dy": 67, "fontSize": 54}, "encoding": {"text": {"field": "delta"}}},
                    {"mark": {"type": "text", "align": "right", "dy": 67, "fontSize": 54, "text": "f"}, "encoding": {"x": {"datum": 6, "type": "quantitative"}}},
                    {"mark": {"type": "text", "align": "right", "dx": -35, "dy": 130, "fontSize": 54, "font": "Liberation Serif", "text": "γ"}, "encoding": {"x": {"datum": 3, "type": "quantitative"}}},
                    {"mark": {"type": "text", "align": "left", "dx": -35, "dy": 130, "fontSize": 54, "text": "="}, "encoding": {"x": {"datum": 3, "type": "quantitative"}}},
                    {"mark": {"type": "text", "align": "left", "dx": -4, "dy": 130, "fontSize": 54}, "encoding": {"x": {"datum": 3, "type": "quantitative"}, "text": {"field": "gamma", "type": "quantitative", "format": "d"}}},
                    {"mark": {"type": "text", "align": "center", "dy": 186, "fontSize": 54}, "encoding": {"x": {"datum": 3, "type": "quantitative"}, "text": {"field": "kind"}, "color": {"field": "kind", "type": "nominal", "scale": {"domain": ["identity", "rugged", "deceptive"], "range": ["#828282", "#0094da", "#da251c"]}, "legend": null}}},
                    {"mark": {"type": "text", "align": "left", "dx": -94, "dy": 33, "fontSize": 46, "text": "r"}, "encoding": {"y": {"datum": 5, "type": "quantitative"}}},
                    {"mark": {"type": "text", "align": "left", "dx": -75, "dy": 45, "fontSize": 22}, "encoding": {"y": {"datum": 5, "type": "quantitative"}, "text": {"field": "sub"}}},
                    {"mark": {"type": "text", "align": "left", "dx": -50, "dy": 33, "fontSize": 34, "text": "[f]"}, "encoding": {"y": {"datum": 5, "type": "quantitative"}}}
                  ]
                },
                {
                  "transform": [{"filter": "isValid(datum.f)"}],
                  "mark": "line",
                  "encoding": {"x": {"field": "f", "type": "quantitative"}, "y": {"field": "r", "type": "quantitative"}, "color": {"field": "kind", "type": "nominal", "scale": {"domain": ["identity", "rugged", "deceptive"], "range": ["#828282", "#0094da", "#da251c"]}, "legend": null}}
                }
              ]
            }
          ]
        }
      ]
    }
  ]
}
